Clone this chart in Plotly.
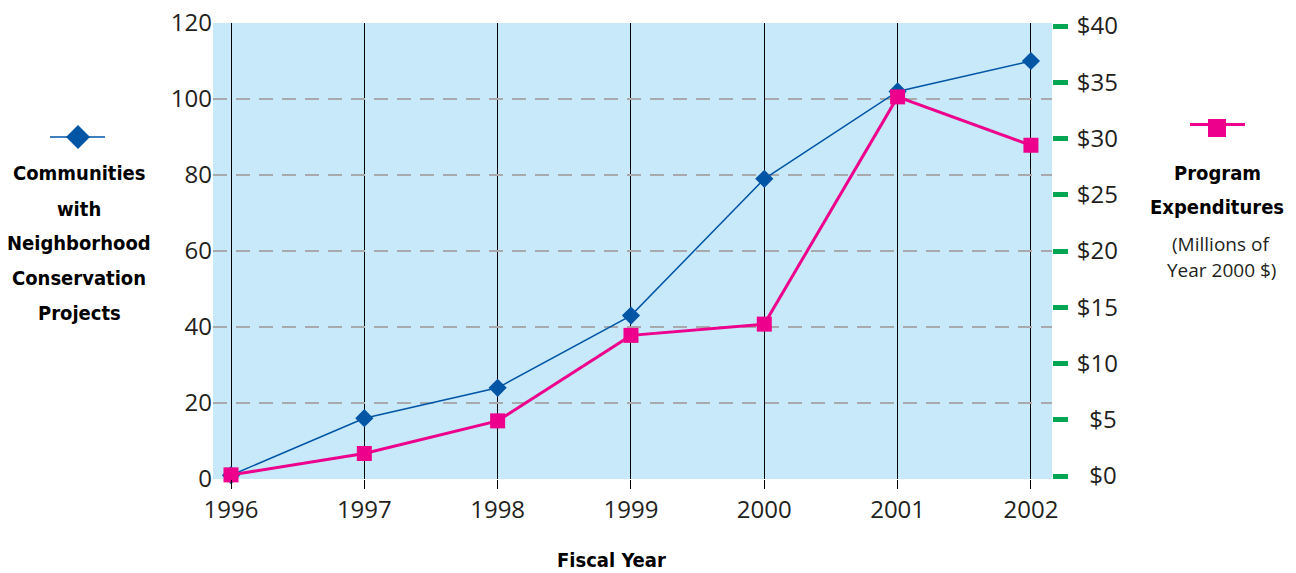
import plotly.graph_objects as go

# Fiscal years and the two series
years = [1996, 1997, 1998, 1999, 2000, 2001, 2002]
communities = [1, 16, 24, 43, 79, 102, 110]
expenditures = [0.1, 2.0, 4.9, 12.5, 13.5, 33.7, 29.4]

left_ticks = [0, 20, 40, 60, 80, 100, 120]
right_ticks = [0, 5, 10, 15, 20, 25, 30, 35, 40]
right_labels = ["\u00a0\u00a0$0", "\u00a0\u00a0$5", "$10", "$15", "$20", "$25", "$30", "$35", "$40"]

BLUE = "#0055a5"
PINK = "#ec008c"
GREEN = "#00a651"
BG = "#c7e9fa"
GRID = "#a7a9ac"
TEXT = "#231f20"

W, H = 1296, 573
L, R, T, B = 213, 1052, 23, 479


def px(x):
    return (x - L) / (R - L)


def py(y):
    return (B - y) / (B - T)


fig = go.Figure()

fig.add_trace(go.Scatter(
    x=years, y=communities, mode="lines+markers",
    line=dict(color=BLUE, width=1.5),
    marker=dict(symbol="diamond", size=14, color=BLUE),
    cliponaxis=False, showlegend=False, yaxis="y",
))
fig.add_trace(go.Scatter(
    x=years, y=expenditures, mode="lines+markers",
    line=dict(color=PINK, width=3),
    marker=dict(symbol="square", size=15, color=PINK),
    cliponaxis=False, showlegend=False, yaxis="y2",
))

title_font = dict(family="DejaVu Sans Condensed, Liberation Sans Narrow, Arial Narrow, sans-serif",
                  size=20, color="#000000")
small_font = dict(family="Open Sans, sans-serif", size=19, color=TEXT)

annotations = []
left_lines = [("Communities", 173), ("with", 209), ("Neighborhood", 243), ("Conservation", 278), ("Projects", 313)]
for text, y in left_lines:
    annotations.append(dict(text=f"<b>{text}</b>", x=px(79), y=py(y), xref="paper", yref="paper",
                            xanchor="center", yanchor="middle", showarrow=False, font=title_font))
right_lines = [("<b>Program</b>", 1217, 173, title_font), ("<b>Expenditures</b>", 1217, 207, title_font),
               ("(Millions of", 1221, 244, small_font), ("Year 2000 $)", 1221, 270, small_font)]
for text, x, y, f in right_lines:
    annotations.append(dict(text=text, x=px(x), y=py(y), xref="paper", yref="paper",
                            xanchor="center", yanchor="middle", showarrow=False, font=f))
annotations.append(dict(text="<b>Fiscal Year</b>", x=px(611), y=py(560), xref="paper", yref="paper",
                        xanchor="center", yanchor="middle", showarrow=False, font=title_font))

shapes = [
    # legend key for communities
    dict(type="line", xref="paper", yref="paper", x0=px(50), x1=px(105), y0=py(137), y1=py(137),
         line=dict(color=BLUE, width=1.5)),
    dict(type="path", xref="paper", yref="paper",
         path=f"M {px(78)} {py(125)} L {px(90)} {py(137)} L {px(78)} {py(149)} L {px(66)} {py(137)} Z",
         fillcolor=BLUE, line=dict(width=0)),
    # legend key for expenditures
    dict(type="line", xref="paper", yref="paper", x0=px(1190), x1=px(1245), y0=py(124.5), y1=py(124.5),
         line=dict(color=PINK, width=3)),
    dict(type="rect", xref="paper", yref="paper", x0=px(1208), x1=px(1226), y0=py(119), y1=py(137),
         fillcolor=PINK, line=dict(width=0)),
]

fig.update_layout(
    width=W, height=H,
    margin=dict(l=L, r=W - R, t=T, b=H - B, autoexpand=False),
    paper_bgcolor="white", plot_bgcolor=BG,
    font=dict(family="Open Sans, sans-serif", size=24, color=TEXT),
    xaxis=dict(
        range=[1995.865, 2002.158], tickvals=years, ticktext=[str(y) for y in years],
        showgrid=True, gridcolor="#000000", gridwidth=1.3,
        ticks="outside", ticklen=9, tickcolor="#000000", tickwidth=1.3,
        showline=False, zeroline=False, automargin=False,
    ),
    yaxis=dict(
        range=[0, 120], tickvals=left_ticks,
        showgrid=True, gridcolor=GRID, gridwidth=2, griddash="14px,9px",
        ticks="", showline=False, zeroline=False, ticklabelstandoff=0, automargin=False,
    ),
    yaxis2=dict(
        range=[-0.267, 40.267], tickvals=right_ticks, ticktext=right_labels,
        overlaying="y", side="right", showgrid=False, zeroline=False, showline=False,
        ticks="outside", ticklen=15, tickwidth=5, tickcolor=GREEN, ticklabelstandoff=4,
        automargin=False,
    ),
    annotations=annotations,
    shapes=shapes,
)

fig.write_html("out.html")
